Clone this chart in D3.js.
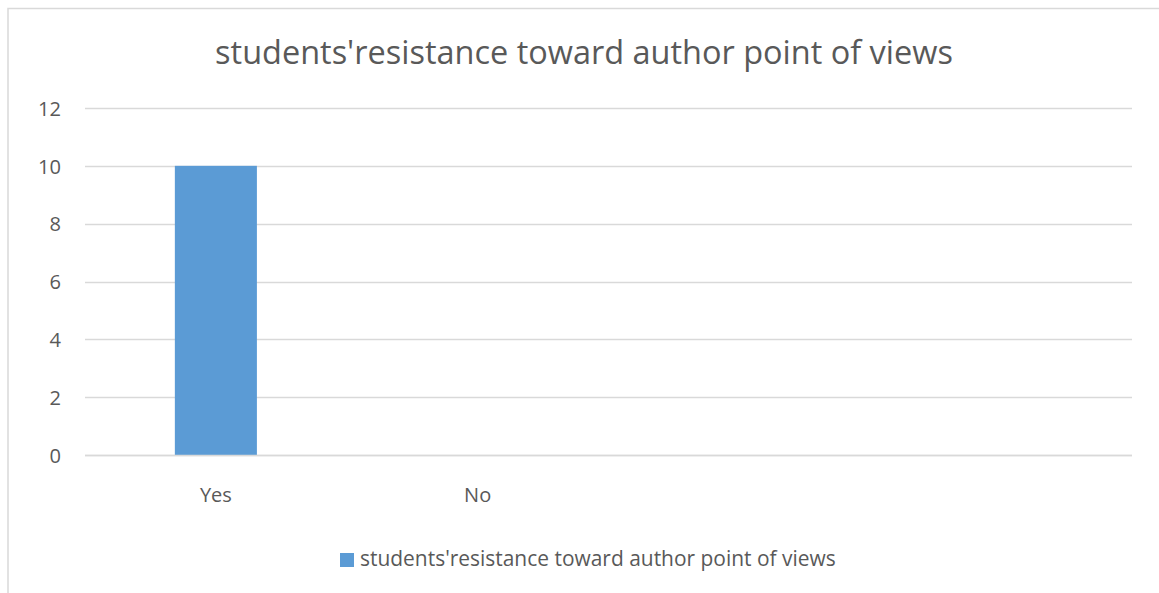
<!DOCTYPE html>
<html>
<head>
<meta charset="utf-8">
<script src="https://cdn.jsdelivr.net/npm/d3@7"></script>
<style>
  html, body { margin: 0; padding: 0; background: #fff; }
  svg { display: block; }
  text { font-family: "Open Sans", "Noto Sans", sans-serif; fill: #595959; }
</style>
</head>
<body>
<svg id="chart" width="1159" height="593"></svg>
<script>
// Chart data
const chartTitle = "students'resistance toward author point of views";
const seriesName = "students'resistance toward author point of views";
const categories = ["Yes", "No", "", ""];
const values = [10, 0, null, null];
const yTicks = [0, 2, 4, 6, 8, 10, 12];

const W = 1159, H = 593;
const plot = { left: 85, right: 1132, top: 108, bottom: 455 };
const FONT = '"Open Sans", "Noto Sans", sans-serif';

const svg = d3.select("#chart");

// Scale a text element's font so that it spans the given width
function fitFont(node, width) {
  const base = 20;
  node.setAttribute("font-size", base);
  const w = node.getComputedTextLength();
  return w > 0 ? base * width / w : base;
}

// Outer chart frame
svg.append("rect")
  .attr("x", 8).attr("y", 8.5)
  .attr("width", W + 10).attr("height", H + 10)
  .attr("fill", "#fff")
  .attr("stroke", "#d9d9d9").attr("stroke-width", 1.5);

const x = d3.scaleBand()
  .domain(d3.range(categories.length))
  .range([plot.left, plot.right])
  .paddingInner(0).paddingOuter(0);

const y = d3.scaleLinear()
  .domain([0, d3.max(yTicks)])
  .range([plot.bottom, plot.top]);

// Horizontal gridlines
svg.append("g")
  .selectAll("line")
  .data(yTicks)
  .join("line")
  .attr("x1", plot.left).attr("x2", plot.right)
  .attr("y1", d => Math.round(y(d)) + 0.5)
  .attr("y2", d => Math.round(y(d)) + 0.5)
  .attr("stroke", "#d9d9d9").attr("stroke-width", 1.3);

// Y axis labels
const yAxis = d3.axisLeft(y).tickValues(yTicks).tickSize(0).tickPadding(0);
const gy = svg.append("g").attr("transform", `translate(${61},0)`).call(yAxis);
gy.select(".domain").remove();
gy.attr("font-family", FONT);
const tickSize = (() => {
  const t = gy.selectAll("text").filter(d => d === 12).node();
  return fitFont(t, 23);
})();
gy.selectAll("text")
  .attr("font-size", tickSize)
  .attr("dy", "0.36em")
  .attr("fill", "#595959");

// Bars (gap width ~219%)
const barW = x.bandwidth() / 3.19;
svg.append("g")
  .selectAll("rect")
  .data(values.map((v, i) => ({ v, i })).filter(d => d.v != null && d.v > 0))
  .join("rect")
  .attr("x", d => x(d.i) + (x.bandwidth() - barW) / 2)
  .attr("width", barW)
  .attr("y", d => y(d.v))
  .attr("height", d => y(0) - y(d.v))
  .attr("fill", "#5b9bd5");

// Baseline redrawn over bar foot
svg.append("line")
  .attr("x1", plot.left).attr("x2", plot.right)
  .attr("y1", Math.round(y(0)) + 0.5).attr("y2", Math.round(y(0)) + 0.5)
  .attr("stroke", "#d9d9d9").attr("stroke-width", 1.3);

// Category labels
const xAxis = d3.axisBottom(x).tickFormat(i => categories[i]).tickSize(0).tickPadding(0);
const gx = svg.append("g").attr("transform", `translate(0,${plot.bottom})`).call(xAxis);
gx.select(".domain").remove();
gx.attr("font-family", FONT);
const catSize = fitFont(gx.selectAll("text").filter(d => d === 0).node(), 32);
gx.selectAll("text")
  .attr("y", 47)
  .attr("dy", null)
  .attr("font-size", catSize)
  .attr("fill", "#595959");

// Title
const title = svg.append("text")
  .attr("x", 584).attr("y", 64)
  .attr("text-anchor", "middle")
  .text(chartTitle);
title.attr("font-size", fitFont(title.node(), 738));

// Legend
const legend = svg.append("g");
legend.append("rect")
  .attr("x", 340).attr("y", 553)
  .attr("width", 14).attr("height", 14)
  .attr("fill", "#5b9bd5");
const legText = legend.append("text")
  .attr("x", 360).attr("y", 566)
  .text(seriesName);
legText.attr("font-size", fitFont(legText.node(), 476));
</script>
</body>
</html>
